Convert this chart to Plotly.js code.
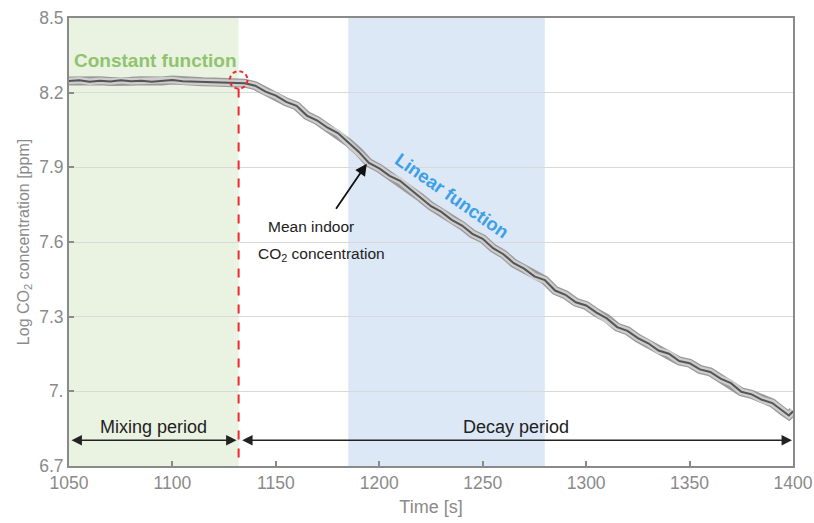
<!DOCTYPE html>
<html>
<head>
<meta charset="utf-8">
<script src="https://cdn.plot.ly/plotly-3.0.1.min.js"></script>
<style>html,body{margin:0;padding:0;background:#fff;}#chart{width:814px;height:523px;}</style>
</head>
<body>
<div id="chart"></div>
<script>
// Time (s) and mean log CO2 concentration
const timeS = [1050,1055,1060,1065,1070,1075,1080,1085,1090,1095,1100,1105,1110,1115,1120,1125,1130,1135,1140,1145,1150,1155,1160,1165,1170,1175,1180,1185,1190,1195,1200,1205,1210,1215,1220,1225,1230,1235,1240,1245,1250,1255,1260,1265,1270,1275,1280,1285,1290,1295,1300,1305,1310,1315,1320,1325,1330,1335,1340,1345,1350,1355,1360,1365,1370,1375,1380,1385,1390,1395,1398,1400];
const logCO2 = [8.247,8.250,8.244,8.248,8.245,8.250,8.246,8.248,8.244,8.247,8.251,8.246,8.245,8.244,8.243,8.242,8.242,8.238,8.228,8.204,8.188,8.163,8.147,8.108,8.088,8.059,8.038,8.000,7.963,7.918,7.896,7.866,7.846,7.812,7.778,7.744,7.721,7.689,7.666,7.633,7.613,7.575,7.551,7.515,7.493,7.462,7.447,7.405,7.388,7.358,7.345,7.316,7.293,7.258,7.243,7.214,7.193,7.164,7.151,7.122,7.113,7.088,7.078,7.051,7.033,6.998,6.988,6.966,6.953,6.920,6.903,6.920];

const yTickVals = [6.7,7.0,7.3,7.6,7.9,8.2,8.5];
const yTickText = ['6.7','7.','7.3','7.6','7.9','8.2','8.5'];
const xTickVals = [1050,1100,1150,1200,1250,1300,1350,1400];

const mixingPeriod = [1050,1132];
const linearWindow = [1185,1280];
const changePoint = {t:1132, y:8.251};
const arrowTarget = {t:1194.5, y:7.921};

const FONT = 'Liberation Sans, Arial, sans-serif';
const GRAY = '#8a8a8a';

const traces = [
  {x:timeS, y:logCO2, mode:'lines', line:{color:'#9a9a9a', width:9}, hoverinfo:'skip'},
  {x:timeS, y:logCO2, mode:'lines', line:{color:'#cdcdcd', width:6.5}, hoverinfo:'skip'},
  {x:timeS, y:logCO2, mode:'lines', line:{color:'#555555', width:2}, hoverinfo:'skip'}
];

const layout = {
  width:814, height:523,
  margin:{l:69, r:21, t:18, b:57},
  paper_bgcolor:'#ffffff', plot_bgcolor:'#ffffff',
  showlegend:false,
  font:{family:FONT, color:GRAY, size:16},
  xaxis:{
    range:[1050,1400], tickvals:xTickVals, showgrid:false, zeroline:false,
    ticks:'inside', ticklen:5, tickwidth:2, tickcolor:GRAY,
    showline:true, linecolor:GRAY, linewidth:2, mirror:true,
    tickfont:{family:FONT, size:17.5, color:GRAY},
    title:{text:'Time [s]', font:{family:FONT, size:18, color:GRAY}, standoff:8}
  },
  yaxis:{
    range:[6.7,8.5], tickvals:yTickVals, ticktext:yTickText,
    showgrid:true, gridcolor:'#d9d9d9', gridwidth:1, zeroline:false,
    ticks:'inside', ticklen:5, tickwidth:2, tickcolor:GRAY,
    showline:true, linecolor:GRAY, linewidth:2, mirror:true,
    tickfont:{family:FONT, size:17.5, color:GRAY},
    title:{text:'Log CO<sub>2</sub> concentration [ppm]', font:{family:FONT, size:16, color:GRAY}, standoff:6}
  },
  shapes:[
    {type:'rect', xref:'x', yref:'paper', x0:mixingPeriod[0], x1:mixingPeriod[1], y0:0, y1:1, fillcolor:'#eaf2e2', line:{width:0}, layer:'below'},
    {type:'rect', xref:'x', yref:'paper', x0:linearWindow[0], x1:linearWindow[1], y0:0, y1:1, fillcolor:'#dce8f5', line:{width:0}, layer:'below'},
    {type:'line', xref:'x', yref:'y', x0:changePoint.t, x1:changePoint.t, y0:changePoint.y-0.034, y1:6.7, line:{color:'#f0282d', width:2, dash:'dash'}},
    {type:'circle', xref:'x', yref:'y', x0:changePoint.t-4.3, x1:changePoint.t+4.3, y0:changePoint.y-0.035, y1:changePoint.y+0.035, line:{color:'#f0282d', width:2, dash:'4px,3px'}}
  ],
  annotations:[
    {x:1051.5, y:8.33, xref:'x', yref:'y', xanchor:'left', yanchor:'middle', showarrow:false,
     text:'<b>Constant function</b>', font:{family:FONT, size:19, color:'#8fc46c'}},
    {x:1235, y:7.785, xref:'x', yref:'y', showarrow:false, textangle:35,
     text:'<b>Linear function</b>', font:{family:FONT, size:18.5, color:'#3d9fe6'}},
    {x:1167, y:7.664, xref:'x', yref:'y', showarrow:false,
     text:'Mean indoor', font:{family:FONT, size:15.5, color:'#222'}},
    {x:1172, y:7.551, xref:'x', yref:'y', showarrow:false,
     text:'CO<sub>2</sub> concentration', font:{family:FONT, size:15.5, color:'#222'}},
    {x:arrowTarget.t, y:arrowTarget.y, xref:'x', yref:'y', axref:'x', ayref:'y', ax:1178.6, ay:7.728,
     text:'', showarrow:true, arrowhead:2, arrowsize:1.3, arrowwidth:1.8, arrowcolor:'#111', standoff:2},
    {x:1091, y:6.856, xref:'x', yref:'y', showarrow:false,
     text:'Mixing period', font:{family:FONT, size:18, color:'#222'}},
    {x:1266, y:6.856, xref:'x', yref:'y', showarrow:false,
     text:'Decay period', font:{family:FONT, size:18, color:'#222'}},
    {x:1131, y:6.8035, xref:'x', yref:'y', axref:'x', ayref:'y', ax:1050.5, ay:6.8035,
     text:'', showarrow:true, arrowhead:2, arrowside:'end+start', arrowsize:1.3, arrowwidth:1.6, arrowcolor:'#222'},
    {x:1399.5, y:6.8035, xref:'x', yref:'y', axref:'x', ayref:'y', ax:1133, ay:6.8035,
     text:'', showarrow:true, arrowhead:2, arrowside:'end+start', arrowsize:1.3, arrowwidth:1.6, arrowcolor:'#222'}
  ]
};

Plotly.newPlot('chart', traces, layout, {displayModeBar:false, staticPlot:true});
</script>
</body>
</html>
